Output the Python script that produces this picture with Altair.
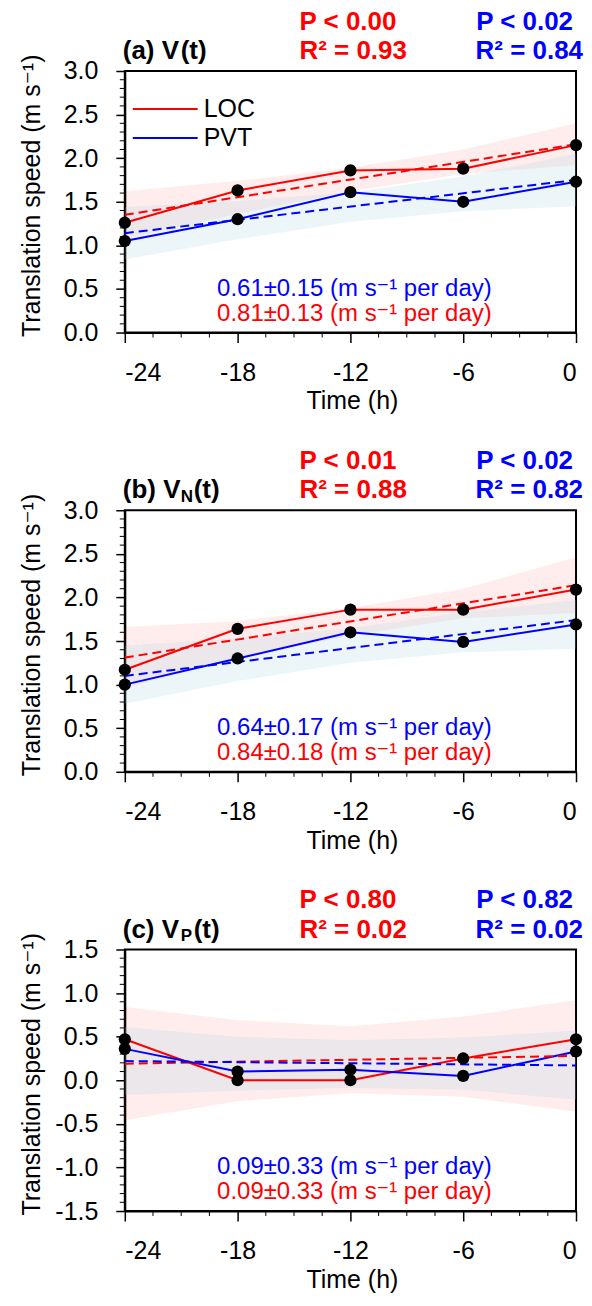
import altair as alt
import pandas as pd

FONT = "Liberation Sans, DejaVu Sans, sans-serif"
RED = "#ff0000"
BLUE = "#0000ff"
W, H = 452, 262

time = [-24, -18, -12, -6, 0]
fit_time = [-24, 0]
x_major = [-24, -18, -12, -6, 0]
x_minor = [-22.5, -21, -19.5, -16.5, -15, -13.5, -10.5, -9, -7.5, -4.5, -3, -1.5]

# ---- panel (a) V(t)
loc_a = [1.26, 1.63, 1.86, 1.88, 2.15]
pvt_a = [1.05, 1.30, 1.61, 1.50, 1.73]
loc_fit_a = [1.35, 2.16]
pvt_fit_a = [1.14, 1.75]
loc_lo_a = [1.08, 1.36, 1.62, 1.82, 1.92]
loc_hi_a = [1.62, 1.74, 1.89, 2.10, 2.40]
pvt_lo_a = [0.84, 1.07, 1.27, 1.39, 1.45]
pvt_hi_a = [1.44, 1.51, 1.61, 1.79, 2.05]

# ---- panel (b) V_N(t)
loc_b = [1.17, 1.64, 1.86, 1.86, 2.09]
pvt_b = [1.00, 1.30, 1.60, 1.49, 1.69]
loc_fit_b = [1.31, 2.14]
pvt_fit_b = [1.10, 1.74]
loc_lo_b = [0.96, 1.31, 1.56, 1.76, 1.82]
loc_hi_b = [1.66, 1.73, 1.88, 2.10, 2.46]
pvt_lo_b = [0.78, 1.04, 1.25, 1.37, 1.41]
pvt_hi_b = [1.45, 1.53, 1.65, 1.83, 1.97]

# ---- panel (c) V_P(t)
loc_c = [0.47, 0.00, 0.00, 0.25, 0.47]
pvt_c = [0.36, 0.10, 0.12, 0.05, 0.33]
loc_fit_c = [0.19, 0.28]
pvt_fit_c = [0.22, 0.17]
loc_lo_c = [-0.46, -0.24, -0.15, -0.19, -0.36]
loc_hi_c = [0.84, 0.69, 0.62, 0.73, 0.92]
pvt_lo_c = [-0.17, -0.12, -0.09, -0.11, -0.22]
pvt_hi_c = [0.61, 0.50, 0.46, 0.49, 0.57]

y_major_ab = [0.0, 0.5, 1.0, 1.5, 2.0, 2.5, 3.0]
y_major_c = [-1.5, -1.0, -0.5, 0.0, 0.5, 1.0, 1.5]

Y_TITLE = "Translation speed (m s⁻¹)"
X_TITLE = "Time (h)"

panels_info = [
    dict(label=("(a) V", "", "(t)"), domain=[0, 3], ymajor=y_major_ab,
         loc=loc_a, pvt=pvt_a, loc_fit=loc_fit_a, pvt_fit=pvt_fit_a,
         loc_lo=loc_lo_a, loc_hi=loc_hi_a, pvt_lo=pvt_lo_a, pvt_hi=pvt_hi_a,
         p_loc="P < 0.00", r_loc="R² = 0.93", p_pvt="P < 0.02", r_pvt="R² = 0.84",
         s_pvt="0.61±0.15 (m s⁻¹ per day)", s_loc="0.81±0.13 (m s⁻¹ per day)", legend=True),
    dict(label=("(b) V", "N", "(t)"), domain=[0, 3], ymajor=y_major_ab,
         loc=loc_b, pvt=pvt_b, loc_fit=loc_fit_b, pvt_fit=pvt_fit_b,
         loc_lo=loc_lo_b, loc_hi=loc_hi_b, pvt_lo=pvt_lo_b, pvt_hi=pvt_hi_b,
         p_loc="P < 0.01", r_loc="R² = 0.88", p_pvt="P < 0.02", r_pvt="R² = 0.82",
         s_pvt="0.64±0.17 (m s⁻¹ per day)", s_loc="0.84±0.18 (m s⁻¹ per day)", legend=False),
    dict(label=("(c) V", "P", "(t)"), domain=[-1.5, 1.5], ymajor=y_major_c,
         loc=loc_c, pvt=pvt_c, loc_fit=loc_fit_c, pvt_fit=pvt_fit_c,
         loc_lo=loc_lo_c, loc_hi=loc_hi_c, pvt_lo=pvt_lo_c, pvt_hi=pvt_hi_c,
         p_loc="P < 0.80", r_loc="R² = 0.02", p_pvt="P < 0.82", r_pvt="R² = 0.02",
         s_pvt="0.09±0.33 (m s⁻¹ per day)", s_loc="0.09±0.33 (m s⁻¹ per day)", legend=False),
]


def txt(s, x, y, color="black", size=26, bold=True, align="left", angle=0):
    kw = dict(font=FONT, fontSize=size, fontWeight="bold" if bold else "normal",
              color=color, align=align, baseline="middle")
    if angle:
        kw["angle"] = angle
    return alt.Chart(pd.DataFrame({"s": [s]})).mark_text(**kw).encode(
        x=alt.value(x), y=alt.value(y), text="s:N")


def make_panel(p):
    lo, hi = p["domain"]
    xs = alt.Scale(domain=[-24, 0], nice=False, zero=False)
    ys = alt.Scale(domain=[lo, hi], nice=False, zero=False)
    y_minor = [round(lo + 0.1 * i, 1) for i in range(int(round((hi - lo) / 0.1)) + 1)]
    y_minor = [v for v in y_minor if abs(v * 2 - round(v * 2)) > 1e-6]

    df = pd.DataFrame({"t": time, "loc": p["loc"], "pvt": p["pvt"],
                       "loc_lo": p["loc_lo"], "loc_hi": p["loc_hi"],
                       "pvt_lo": p["pvt_lo"], "pvt_hi": p["pvt_hi"]})
    fit = pd.DataFrame({"t": fit_time, "loc": p["loc_fit"], "pvt": p["pvt_fit"]})
    pts = pd.DataFrame({"t": time * 2, "v": p["loc"] + p["pvt"]})

    xaxis = alt.Axis(values=x_major, title=None,
                     labelExpr="(datum.value < 0 ? '-' : '') + abs(datum.value)",
                     tickSize=10, labelPadding=18)
    yaxis = alt.Axis(values=p["ymajor"], title=None,
                     labelExpr="(datum.value < 0 ? '-' : '') + format(abs(datum.value), '.1f')",
                     tickSize=9, labelPadding=18)

    X = alt.X("t:Q", scale=xs, axis=xaxis)
    base = alt.Chart(df)
    layers = [
        base.mark_area(color=RED, opacity=0.07).encode(
            x=X, y=alt.Y("loc_lo:Q", scale=ys, axis=yaxis), y2="loc_hi:Q"),
        base.mark_area(color="#9fd3e3", opacity=0.2).encode(
            x="t:Q", y="pvt_lo:Q", y2="pvt_hi:Q"),
        base.mark_line(color=RED, strokeWidth=2).encode(x="t:Q", y="loc:Q"),
        base.mark_line(color=BLUE, strokeWidth=2).encode(x="t:Q", y="pvt:Q"),
        alt.Chart(fit).mark_line(color=RED, strokeWidth=2, strokeDash=[9, 5]).encode(x="t:Q", y="loc:Q"),
        alt.Chart(fit).mark_line(color=BLUE, strokeWidth=2, strokeDash=[9, 5]).encode(x="t:Q", y="pvt:Q"),
        alt.Chart(pts).mark_point(filled=True, color="black", opacity=1, size=150, shape="circle").encode(
            x="t:Q", y="v:Q"),
        alt.Chart(pd.DataFrame({"t": x_minor})).mark_rule(color="black", strokeWidth=1).encode(
            x="t:Q", y=alt.value(H), y2=alt.value(H + 5)),
        alt.Chart(pd.DataFrame({"v": y_minor})).mark_rule(color="black", strokeWidth=1).encode(
            y="v:Q", x=alt.value(0), x2=alt.value(-5)),
        txt(Y_TITLE, -93, H / 2 - 6, size=25, bold=False, align="center", angle=270),
        txt(X_TITLE, 228, H + 69, size=25, bold=False, align="center"),
        txt(p["label"][0], -2, -20),
        txt(p["p_loc"], 175, -49.5, RED),
        txt(p["r_loc"], 175, -20, RED),
        txt(p["p_pvt"], 449, -49.5, BLUE, align="right"),
        txt(p["r_pvt"], 459, -20, BLUE, align="right"),
        txt(p["s_pvt"], 230, 218, BLUE, size=24, bold=False, align="center"),
        txt(p["s_loc"], 230, 243, RED, size=24, bold=False, align="center"),
    ]
    if p["label"][1]:
        layers.append(txt(p["label"][1], 56, -13, size=17))
        layers.append(txt(p["label"][2], 69, -20))
    else:
        layers.append(txt(p["label"][2], 56, -20))
    if p["legend"]:
        for name, col, yy in [("LOC", RED, 38), ("PVT", BLUE, 67)]:
            layers.append(alt.Chart(pd.DataFrame({"s": [name]})).mark_rule(color=col, strokeWidth=2).encode(
                x=alt.value(8), x2=alt.value(73), y=alt.value(yy)))
            layers.append(txt(name, 79, yy, size=25, bold=False))
    return alt.layer(*layers).properties(width=W, height=H)


chart = alt.vconcat(*[make_panel(p) for p in panels_info], spacing=178, bounds="flush").properties(
    padding={"left": 10, "top": -2, "right": 0, "bottom": 0}
).configure_view(stroke="black", strokeWidth=2).configure_axis(
    grid=False, domainColor="black", domainWidth=2, tickColor="black", tickWidth=1.5,
    labelFont=FONT, labelFontSize=25, labelColor="black"
)

chart.save("out.html", embed_options={"renderer": "svg", "actions": False})
